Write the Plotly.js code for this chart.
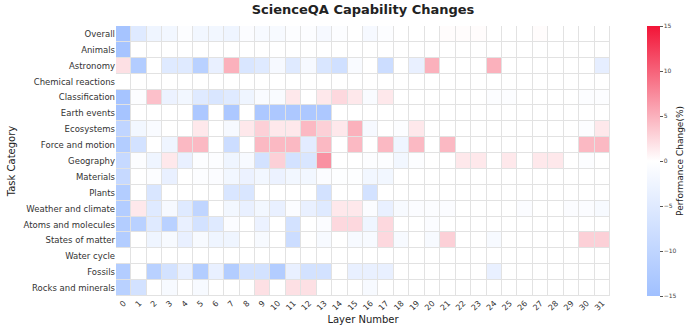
<!DOCTYPE html>
<html>
<head>
<meta charset="utf-8">
<script src="https://cdn.plot.ly/plotly-3.0.1.min.js"></script>
<style>
  html, body { margin: 0; padding: 0; background: #fff; }
  #chart { width: 697px; height: 333px; }
</style>
</head>
<body>
<div id="chart"></div>
<script>
// task categories, top to bottom
var categories = ['Overall', 'Animals', 'Astronomy', 'Chemical reactions', 'Classification',
    'Earth events', 'Ecosystems', 'Force and motion', 'Geography', 'Materials', 'Plants',
    'Weather and climate', 'Atoms and molecules', 'States of matter', 'Water cycle', 'Fossils',
    'Rocks and minerals'];

var layers = [];
for (var i = 0; i < 32; i++) layers.push(String(i));

// performance change (%) per layer
var overall   = [-14, -5, -2.5, -2, -0.5, -2, -2, -2.5, -0.7, -1.3, -1.3, -0.5, -0.4, -1.5, -0.4, 0, -1.5, -0.5, 0, 0, 0, 0.2, 0.2, 0.2, 0, 0, 0, 0.2, 0, 0, 0, 0];
var animals   = [-14, 0, 0, 0, 0, 0, 0, 0, 0, 0, 0, 0, 0, 0, 0, 0, 0, 0, 0, 0, 0, 0, 0, 0, 0, 0, 0, 0, 0, 0, 0, 0];
var astronomy = [2, -12, 0, -5, -5, -11, -3.5, 5, -6, -5, -1.5, -5, -1.5, -6, -7.5, -1, 0, -8, 0, -3.5, 5, 0, 0, 0, 5, 0, 0, 0, 0, 0, 0, -4];
var chemical  = [0, 0, 0, 0, 0, 0, 0, 0, 0, 0, 0, 0, 0, 0, 0, 0, 0, 0, 0, 0, 0, 0, 0, 0, 0, 0, 0, 0, 0, 0, 0, 0];
var classif   = [-14, -0.5, 4, -3, -2, -5, -6, -5, -2.5, -1, -1, 1.5, 0, 1.5, 2.5, 1.5, -1, 1.5, 0, 0, 0, 0, 0, 0, -0.5, -0.5, 0, 0, 0, 0, -0.5, -0.5];
var earth     = [-14, 0, 0, 0, 0, -13, 0, -13, 0, -13, -13, -13, -13, -13, 0, 0, 0, 0, 0, 0, 0, 0, 0, 0, 0, 0, 0, 0, 0, 0, 0, 0];
var ecosys    = [-10, -2, -1, 0, 0, 1.5, 0, -1.5, 1.5, 3, 1.5, 1.5, 4.5, 3, 1.5, 5, -1.5, 0, -0.5, 1.5, 0, 0, 0, 0, 0, 0, 0, 0, 0, 0, -0.5, 1.5];
var force     = [-12, -7, 0, -2.5, 4.5, 4.5, 0, -8, 0, 4.5, 4.5, 4.5, -4.5, 4.5, 0, 4.5, 0, 4.5, -2.5, 4.5, 0, 4.5, 0, 0, 0, 0, 0, 0, 0, 0, 4.5, 4.5];
var geography = [-9, -0.5, -2.5, 1.5, -3.5, -0.5, -0.5, -2.5, -1.2, -7, 3, -7, -6, 7, 0, 0, -0.5, -0.5, -2, -0.5, 0, 0, 1.5, 1.5, 0, 1.5, 0, 1.5, 1.5, 0, -0.5, 0];
var materials = [-9, 0, -0.5, -3.5, 0, -0.5, -0.7, -2, -3, -2, -3, -2, -2, -0.7, -0.3, -0.3, -2, -2, 0, 0, 0, 0, 0, 0, 0, 0, 0, 0, 0, 0, 0, 0];
var plants    = [-12, 0, -6, 0, 0, 0, 0, -6, -6, 0, 0, 0, 0, -7, 0, 0, -7, 0, 0, 0, 0, 0, 0, 0, 0, 0, 0, 0, 0, 0, 0, 0];
var weather   = [-12, 1.5, -5, -1.5, -5, -10, 0, -2, -3.5, -2, -3.5, -0.7, -3.5, -5, 1.5, 1.5, -0.7, -3.5, -1.2, -0.7, -0.7, -0.7, 0, 0, 0, 0, -0.7, 0, 0, -0.7, -0.7, -1.2];
var atoms     = [-12, -11, -5, -11, -3.5, -7, -5, -0.7, 0, -3, 0, -7, 0, -0.7, 2.5, 2.5, -2.5, 2.5, 0, 0, -0.7, 0, 0, 0, 0, 0, 0, 0, 0, 0, 0, 0];
var states    = [-12, 0, -2.5, -1.2, -3.5, -1.2, -2.5, -2.5, 0, -1.2, 0, -8, 0, -1.2, 0, -1.2, -1.2, 2.5, -1.2, 0, -1.2, 3, 0, 0, -1.2, 0, 0, 0, 0, 0, 3, 3];
var water     = [0, 0, 0, 0, 0, 0, 0, 0, 0, 0, 0, 0, 0, 0, 0, 0, 0, 0, 0, 0, 0, 0, 0, 0, 0, 0, 0, 0, 0, 0, 0, 0];
var fossils   = [-12, 0, -11, -7, -3.5, -12, -3.5, -12, -7, -7, -12, -3.5, -7, -7, 0, -3.5, -3.5, -3.5, 0, 0, 0, 0, 0, 0, -3.5, 0, 0, 0, 0, 0, 0, 0];
var rocks     = [-11, -7, 0, -1.2, 0, -1.2, 0, 0, 0, 2, 0, 2, 2, 0, 0, 0, -1.2, 0, 0, 0, 0, 0, 0, 0, 0, 0, 0, 0, 0, 0, 0, 0];

var z = [overall, animals, astronomy, chemical, classif, earth, ecosys, force, geography,
         materials, plants, weather, atoms, states, water, fossils, rocks];

var font = 'DejaVu Sans, sans-serif';

var trace = {
    type: 'heatmap',
    x: layers,
    y: categories,
    z: z,
    zmin: -15, zmax: 15,
    colorscale: [[0, 'rgb(160,192,255)'], [0.5, 'rgb(255,255,255)'], [1, 'rgb(242,20,55)']],
    xgap: 1, ygap: 1,
    hoverinfo: 'none',
    colorbar: {
        x: 1.075, xanchor: 'left', xpad: 0, ypad: 0,
        y: 0.5, len: 1, thickness: 13,
        outlinewidth: 0,
        tickvals: [-15, -10, -5, 0, 5, 10, 15],
        ticks: 'outside', ticklen: 3, tickcolor: '#555',
        tickfont: {family: font, size: 6, color: '#444'},
        title: {text: 'Performance Change(%)', side: 'right', font: {family: font, size: 9, color: '#222'}}
    }
};

var layout = {
    width: 697,
    height: 333,
    margin: {l: 116, r: 72, t: 26, b: 37},
    paper_bgcolor: '#ffffff',
    plot_bgcolor: '#e2e2e2',
    font: {family: font, color: '#222'},
    title: {
        text: '<b>ScienceQA Capability Changes</b>',
        font: {family: font, size: 13, color: '#222'},
        x: 0.5, xanchor: 'center', xref: 'paper',
        y: 0.972, yanchor: 'middle'
    },
    xaxis: {
        type: 'category',
        tickangle: -45,
        ticks: '',
        tickfont: {family: font, size: 8, color: '#333'},
        title: {text: 'Layer Number', font: {family: font, size: 10, color: '#222'}, standoff: 4},
        showgrid: false, zeroline: false
    },
    yaxis: {
        type: 'category',
        autorange: 'reversed',
        ticks: '',
        tickfont: {family: font, size: 8.5, color: '#333'},
        title: {text: 'Task Category', font: {family: font, size: 10, color: '#222'}, standoff: 6},
        showgrid: false, zeroline: false
    }
};

Plotly.newPlot('chart', [trace], layout, {displayModeBar: false, staticPlot: true});
</script>
</body>
</html>
